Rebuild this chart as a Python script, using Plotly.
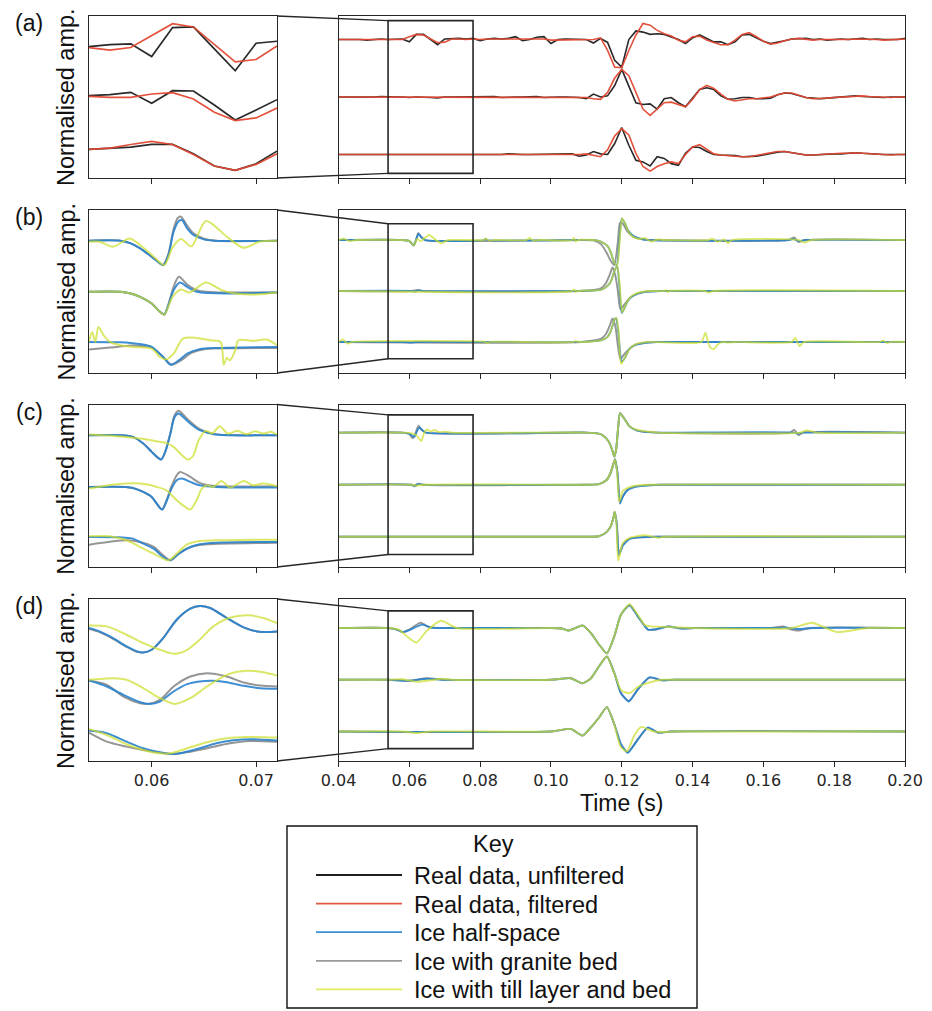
import plotly.graph_objects as go

# ============================ DATA ============================
# (a) real data, sampled every 2 ms (0.040 ... 0.200 s); amplitudes relative to each trace's baseline
A_T = [round(0.040 + 0.002 * i, 3) for i in range(81)]
A_TOP_UNF = [0.00, 0.00, 0.01, 0.00, -0.01, 0.00, 0.01, 0.00, 0.01, 0.01,
             -0.04, 0.09, 0.09, 0.00, -0.09, 0.01, 0.02, 0.02, 0.01, 0.02,
             -0.02, 0.01, 0.02, 0.01, 0.02, 0.05, -0.02, 0.00, 0.04, 0.05,
             -0.07, 0.00, 0.01, 0.01, 0.00, 0.00, -0.06, 0.02, -0.05, -0.36,
             -0.48, 0.00, 0.15, 0.13, 0.09, 0.10, 0.09, 0.05, 0.00, -0.07,
             0.03, 0.08, 0.02, -0.04, -0.04, -0.09, -0.04, 0.08, 0.09, 0.03,
             -0.03, -0.07, -0.05, -0.02, 0.01, 0.01, 0.02, 0.00, 0.01, -0.01,
             0.00, 0.01, 0.00, 0.01, 0.02, 0.00, 0.01, 0.00, 0.00, 0.00, 0.02]
A_TOP_FIL = [0.00, 0.00, -0.01, 0.00, 0.00, 0.00, 0.00, 0.00, -0.01, 0.00,
             0.05, 0.09, 0.08, 0.01, -0.055, -0.045, 0.01, 0.01, 0.00, 0.01,
             0.00, 0.01, 0.01, 0.01, 0.01, 0.02, 0.01, 0.01, 0.02, 0.01,
             -0.01, -0.01, 0.00, 0.00, 0.00, 0.00, 0.00, 0.03, -0.19, -0.48,
             -0.49, -0.19, 0.08, 0.28, 0.25, 0.16, 0.10, 0.06, -0.01, -0.04,
             0.05, 0.06, -0.01, -0.05, -0.09, -0.09, -0.01, 0.09, 0.12, 0.05,
             -0.03, -0.08, -0.06, -0.02, 0.01, 0.02, 0.01, -0.01, 0.00, 0.00,
             -0.01, 0.00, 0.00, 0.01, 0.01, 0.00, 0.00, -0.01, 0.00, 0.00, 0.01]
A_MID_UNF = [0.00, 0.00, 0.00, -0.01, 0.00, 0.00, 0.01, 0.00, 0.00, 0.00,
             -0.01, 0.00, 0.00, -0.01, -0.015, 0.00, 0.00, 0.00, 0.00, 0.00,
             0.00, 0.00, 0.01, -0.01, 0.00, 0.00, 0.00, 0.00, 0.01, -0.01,
             0.00, 0.00, 0.00, 0.00, -0.01, -0.03, 0.05, 0.00, 0.02, 0.20,
             0.48, 0.19, -0.10, -0.13, -0.12, -0.21, -0.03, -0.01, -0.10, -0.17,
             -0.01, 0.13, 0.16, 0.13, 0.02, -0.04, -0.03, -0.01, -0.01, -0.03,
             -0.03, -0.02, 0.04, 0.07, 0.06, 0.02, -0.01, -0.02, -0.03, -0.02,
             -0.01, 0.00, 0.01, 0.02, 0.01, 0.00, 0.00, -0.01, 0.00, 0.00, 0.00]
A_MID_FIL = [0.00, 0.00, 0.00, 0.00, 0.00, 0.00, 0.00, 0.00, 0.00, 0.00,
             -0.01, 0.00, 0.00, 0.00, -0.01, 0.00, 0.00, 0.00, 0.00, 0.00,
             0.00, 0.00, 0.00, 0.00, 0.00, 0.00, 0.00, 0.00, 0.00, 0.00,
             0.00, 0.00, 0.00, 0.00, -0.01, -0.01, -0.03, -0.04, 0.08, 0.33,
             0.48, 0.37, 0.08, -0.21, -0.32, -0.21, -0.10, -0.09, -0.13, -0.17,
             -0.04, 0.13, 0.20, 0.15, 0.05, -0.04, -0.07, -0.05, -0.03, -0.03,
             -0.02, 0.00, 0.04, 0.07, 0.07, 0.03, -0.01, -0.03, -0.03, -0.02,
             -0.01, 0.00, 0.01, 0.02, 0.02, 0.01, 0.00, -0.01, -0.01, 0.00, 0.00]
A_BOT_UNF = [0.00, 0.00, 0.00, 0.00, 0.00, -0.01, 0.00, 0.00, 0.00, 0.00,
             0.00, 0.00, 0.00, -0.01, -0.01, 0.00, 0.00, 0.00, 0.00, 0.00,
             0.00, 0.00, 0.00, 0.00, 0.01, 0.00, 0.00, 0.00, 0.00, 0.00,
             0.00, 0.00, 0.00, 0.01, -0.03, -0.01, 0.05, 0.01, 0.00, 0.19,
             0.47, 0.16, -0.10, -0.13, -0.20, -0.04, -0.07, -0.16, -0.19, 0.02,
             0.13, 0.12, 0.05, 0.00, -0.01, -0.01, -0.02, -0.04, -0.04, -0.03,
             -0.01, 0.02, 0.04, 0.05, 0.03, 0.01, -0.01, -0.01, 0.00, 0.00,
             0.01, 0.01, 0.02, 0.03, 0.02, 0.01, 0.00, 0.00, 0.00, 0.00, 0.00]
A_BOT_FIL = [0.00, 0.00, 0.00, 0.00, 0.00, 0.00, 0.00, 0.00, 0.00, 0.00,
             0.00, 0.00, 0.00, 0.00, -0.01, 0.00, 0.00, 0.00, 0.00, 0.00,
             0.00, 0.00, 0.00, 0.00, 0.00, 0.00, 0.00, 0.00, 0.00, 0.00,
             0.00, 0.00, 0.00, 0.00, 0.00, 0.01, -0.02, -0.04, 0.08, 0.32,
             0.45, 0.34, 0.02, -0.21, -0.29, -0.21, -0.16, -0.13, -0.16, 0.00,
             0.13, 0.17, 0.09, 0.01, -0.01, -0.02, -0.04, -0.04, -0.04, -0.02,
             0.00, 0.02, 0.05, 0.05, 0.03, 0.01, -0.01, -0.01, 0.00, 0.00,
             0.01, 0.02, 0.02, 0.03, 0.02, 0.01, 0.00, 0.00, -0.01, 0.00, 0.00]

# (a) zoom window, each trace re-normalised within the window
A_IN_T = [0.054, 0.056, 0.058, 0.060, 0.062, 0.064, 0.066, 0.068, 0.070, 0.072]
A_IN_TOP_UNF = [0.03, 0.09, 0.11, -0.27, 0.60, 0.62, -0.04, -0.70, 0.13, 0.19]
A_IN_TOP_FIL = [0.00, -0.08, 0.00, 0.37, 0.72, 0.62, 0.10, -0.43, -0.36, 0.05]
A_IN_MID_UNF = [0.02, 0.05, 0.12, -0.21, 0.17, 0.16, -0.26, -0.71, -0.41, -0.10]
A_IN_MID_FIL = [0.00, -0.03, -0.03, 0.07, 0.11, -0.08, -0.48, -0.73, -0.65, -0.35]
A_IN_BOT_UNF = [0.00, 0.03, 0.07, 0.15, 0.15, -0.13, -0.50, -0.63, -0.43, -0.05]
A_IN_BOT_FIL = [0.00, 0.04, 0.15, 0.24, 0.15, -0.15, -0.50, -0.63, -0.45, -0.13]

# (b) synthetic traces, full window: (time s, amplitude)
B_TOP_BLUE = [(0.040, 0), (0.058, 0), (0.0600, -0.02), (0.0613, -0.10), (0.0619, 0.0), (0.0626, 0.12), (0.0634, 0.06),
              (0.0645, 0.0), (0.081, 0), (0.0815, 0.02), (0.082, 0), (0.107, 0), (0.1122, 0.0), (0.1141, -0.03),
              (0.116, -0.12), (0.117, -0.26), (0.1179, -0.45), (0.1186, -0.49), (0.1193, -0.03), (0.1200, 0.42),
              (0.1208, 0.34), (0.1217, 0.20), (0.1231, 0.09), (0.1250, 0.03), (0.1273, 0.0), (0.167, 0),
              (0.1685, 0.02), (0.170, -0.02), (0.172, 0), (0.200, 0)]
B_TOP_GREY = [(0.040, 0), (0.058, 0), (0.0600, -0.02), (0.0612, -0.11), (0.0619, 0.0), (0.0625, 0.14), (0.0633, 0.06),
              (0.0645, 0.0), (0.108, 0), (0.1122, -0.01), (0.1141, -0.08), (0.1155, -0.22), (0.117, -0.42),
              (0.1179, -0.49), (0.1189, -0.03), (0.1195, 0.34), (0.1203, 0.32), (0.1217, 0.16), (0.1236, 0.05),
              (0.1264, 0.01), (0.129, 0), (0.167, 0), (0.1687, 0.05), (0.1700, -0.04), (0.1715, 0), (0.200, 0)]
B_TOP_YEL = [(0.040, 0), (0.0415, 0.03), (0.043, -0.02), (0.045, 0), (0.058, 0), (0.0600, -0.02), (0.0613, -0.10),
             (0.0622, 0.02), (0.0632, -0.02), (0.0656, 0.10), (0.0675, 0.0), (0.0691, -0.06), (0.071, 0),
             (0.081, 0), (0.0815, 0.03), (0.0825, -0.01), (0.084, 0), (0.093, 0), (0.094, 0.04), (0.095, -0.01),
             (0.097, 0), (0.106, 0), (0.1065, 0.04), (0.107, -0.03), (0.1075, 0), (0.1122, 0.0), (0.1141, -0.03),
             (0.116, -0.12), (0.117, -0.26), (0.1179, -0.45), (0.1187, -0.49), (0.1194, -0.03), (0.1201, 0.43),
             (0.1209, 0.33), (0.1218, 0.18), (0.1232, 0.06), (0.1250, 0.02), (0.1264, 0.04), (0.1283, -0.03),
             (0.1302, 0.01), (0.132, 0), (0.1445, 0), (0.1455, 0.03), (0.147, -0.03), (0.149, 0.01),
             (0.150, -0.06), (0.151, 0), (0.170, 0), (0.1716, -0.05), (0.1735, 0), (0.200, 0)]
B_MID_BLUE = [(0.040, 0), (0.0605, 0), (0.0615, -0.01), (0.0625, 0.01), (0.064, 0), (0.108, 0), (0.1122, 0.01),
              (0.1141, 0.02), (0.116, 0.10), (0.117, 0.20), (0.1179, 0.39), (0.1187, 0.49), (0.1193, 0.13),
              (0.1200, -0.43), (0.1208, -0.33), (0.1217, -0.20), (0.1231, -0.10), (0.1255, -0.03), (0.1283, -0.01),
              (0.131, 0), (0.200, 0)]
B_MID_GREY = [(0.040, 0), (0.0605, 0), (0.0625, 0.02), (0.064, 0), (0.108, 0), (0.1122, 0.02), (0.1141, 0.05),
              (0.1155, 0.15), (0.1166, 0.32), (0.1174, 0.46), (0.1182, 0.30), (0.1189, 0.0), (0.1196, -0.36),
              (0.1208, -0.26), (0.1224, -0.13), (0.1245, -0.05), (0.127, -0.01), (0.130, 0), (0.200, 0)]
B_MID_YEL = [(0.040, 0), (0.106, 0), (0.1065, 0.03), (0.107, -0.02), (0.1075, 0), (0.1122, 0.01), (0.1141, 0.02),
             (0.116, 0.10), (0.117, 0.20), (0.1179, 0.39), (0.1187, 0.49), (0.1194, 0.13), (0.1201, -0.42),
             (0.1209, -0.31), (0.1218, -0.18), (0.1232, -0.08), (0.1255, -0.02), (0.128, 0), (0.132, 0),
             (0.1325, 0.02), (0.133, -0.02), (0.1335, 0), (0.1435, 0), (0.1445, -0.03), (0.146, 0), (0.200, 0)]
B_BOT_BLUE = [(0.040, 0), (0.058, 0), (0.0605, -0.01), (0.062, 0), (0.1085, 0), (0.1141, 0.03), (0.116, 0.10),
              (0.117, 0.23), (0.1179, 0.43), (0.1184, 0.47), (0.1190, 0.20), (0.1200, -0.39), (0.1210, -0.30),
              (0.1222, -0.13), (0.1241, -0.05), (0.1274, -0.01), (0.130, 0), (0.200, 0)]
B_BOT_GREY = [(0.040, 0), (0.1085, 0), (0.1141, 0.06), (0.1155, 0.15), (0.1166, 0.32), (0.1174, 0.46),
              (0.1182, 0.30), (0.1189, -0.07), (0.1196, -0.33), (0.1212, -0.20), (0.1236, -0.07), (0.127, -0.01),
              (0.130, 0), (0.200, 0)]
B_BOT_YEL = [(0.040, 0), (0.0412, 0.05), (0.0425, -0.03), (0.044, 0), (0.0815, 0), (0.082, -0.02), (0.083, 0),
             (0.1065, 0), (0.107, 0.02), (0.1075, 0), (0.1141, 0.03), (0.116, 0.10), (0.117, 0.23), (0.1179, 0.43),
             (0.1185, 0.47), (0.1191, 0.20), (0.1198, -0.43), (0.1208, -0.32), (0.1222, -0.14), (0.1241, -0.04),
             (0.127, 0), (0.1425, 0), (0.1436, 0.18), (0.1449, -0.10), (0.1459, -0.14), (0.1473, -0.04),
             (0.1485, 0.0), (0.1500, -0.01), (0.152, 0), (0.168, 0), (0.169, 0.08), (0.1702, -0.08), (0.1715, 0),
             (0.193, 0), (0.1938, 0.03), (0.1948, -0.02), (0.196, 0), (0.200, 0)]
# (b) zoom window
B_IN_TOP_BLUE = [(0.054, 0), (0.0570, 0), (0.0580, -0.08), (0.0589, -0.23), (0.0600, -0.48), (0.0608, -0.68),
                 (0.0611, -0.73), (0.0616, -0.43), (0.0621, 0.27), (0.0626, 0.59), (0.0629, 0.62), (0.0634, 0.37),
                 (0.0640, 0.17), (0.0650, 0.04), (0.0660, 0.0), (0.072, 0)]
B_IN_TOP_GREY = [(0.054, 0), (0.0570, 0), (0.0580, -0.08), (0.0589, -0.23), (0.0600, -0.48), (0.0608, -0.68),
                 (0.0611, -0.73), (0.0616, -0.40), (0.0621, 0.35), (0.0625, 0.68), (0.0628, 0.72), (0.0634, 0.45),
                 (0.0640, 0.22), (0.0650, 0.06), (0.0662, 0.0), (0.072, 0)]
B_IN_TOP_YEL = [(0.054, -0.03), (0.0550, -0.03), (0.0563, -0.18), (0.0579, 0.07), (0.0589, -0.13), (0.0602, -0.48),
                (0.0612, -0.73), (0.0620, -0.20), (0.0628, 0.05), (0.0638, -0.17), (0.0652, 0.59), (0.0672, 0.12),
                (0.0688, -0.21), (0.0703, -0.03), (0.072, 0)]
B_IN_MID_BLUE = [(0.054, 0), (0.0570, 0), (0.0580, -0.05), (0.0589, -0.15), (0.0600, -0.35), (0.0608, -0.60),
                 (0.0612, -0.68), (0.0616, -0.40), (0.0621, 0.05), (0.0627, 0.28), (0.0634, 0.15), (0.0643, 0.0),
                 (0.072, -0.02)]
B_IN_MID_GREY = [(0.054, 0), (0.0570, 0), (0.0580, -0.05), (0.0589, -0.15), (0.0600, -0.35), (0.0608, -0.60),
                 (0.0612, -0.68), (0.0616, -0.38), (0.0621, 0.15), (0.0626, 0.45), (0.0634, 0.22), (0.0645, 0.03),
                 (0.0660, -0.01), (0.072, -0.02)]
B_IN_MID_YEL = [(0.054, 0), (0.0570, 0), (0.0580, -0.05), (0.0589, -0.15), (0.0600, -0.35), (0.0608, -0.60),
                (0.0612, -0.68), (0.0620, -0.15), (0.0628, 0.07), (0.0636, -0.02), (0.0652, 0.28), (0.0667, 0.05),
                (0.0680, -0.05), (0.0700, -0.08), (0.072, -0.02)]
B_IN_BOT_BLUE = [(0.054, 0.15), (0.0570, 0.14), (0.0580, 0.12), (0.0590, 0.08), (0.0600, 0.0), (0.0611, -0.30),
                 (0.0618, -0.53), (0.0626, -0.40), (0.0634, -0.20), (0.0646, -0.07), (0.0662, -0.03), (0.072, 0)]
B_IN_BOT_GREY = [(0.054, -0.08), (0.0560, -0.02), (0.0580, 0.04), (0.0590, 0.03), (0.0600, -0.02), (0.0611, -0.30),
                 (0.0619, -0.53), (0.0628, -0.40), (0.0638, -0.18), (0.0650, -0.07), (0.0680, -0.04), (0.072, -0.03)]
B_IN_BOT_YEL = [(0.054, 0.15), (0.0543, 0.45), (0.0546, 0.15), (0.0549, 0.60), (0.0554, 0.35), (0.0560, 0.15),
                (0.0570, 0.05), (0.0582, 0.0), (0.0600, -0.05), (0.0608, -0.30), (0.0614, -0.37), (0.0621, -0.20),
                (0.0630, 0.25), (0.0643, 0.27), (0.0656, 0.20), (0.0666, 0.15), (0.0669, -0.53), (0.0672, -0.33),
                (0.0675, -0.40), (0.0680, -0.10), (0.0683, 0.20), (0.0697, 0.18), (0.0710, 0.22), (0.0720, 0.05)]

# (c) synthetic traces, full window
C_TOP_BLUE = [(0.040, 0), (0.058, 0), (0.0600, -0.02), (0.0614, -0.08), (0.0620, 0.0), (0.0628, 0.10), (0.0636, 0.05),
              (0.0648, 0.0), (0.1100, 0), (0.1135, -0.02), (0.1146, -0.05), (0.1163, -0.17), (0.1173, -0.33),
              (0.1179, -0.46), (0.1184, -0.33), (0.1190, 0.11), (0.1195, 0.37), (0.1206, 0.28), (0.1222, 0.12),
              (0.1244, 0.04), (0.1276, 0.01), (0.130, 0), (0.1685, 0), (0.1695, -0.02), (0.171, 0), (0.200, 0)]
C_TOP_GREY = [(0.040, 0), (0.058, 0), (0.0600, -0.03), (0.0610, -0.11), (0.0618, 0.0), (0.0626, 0.135),
              (0.0634, 0.06), (0.0646, 0.0), (0.1100, 0), (0.1135, -0.02), (0.1146, -0.05), (0.1163, -0.17),
              (0.1173, -0.33), (0.1179, -0.46), (0.1184, -0.33), (0.1190, 0.11), (0.1195, 0.38), (0.1206, 0.28),
              (0.1222, 0.12), (0.1244, 0.04), (0.1276, 0.01), (0.130, 0), (0.1675, 0), (0.1687, 0.05),
              (0.1700, -0.05), (0.1712, 0), (0.200, 0)]
C_TOP_YEL = [(0.040, 0), (0.058, 0), (0.0605, -0.01), (0.0620, -0.05), (0.0634, -0.16), (0.0642, 0.0),
             (0.0650, 0.06), (0.066, 0.02), (0.0670, 0.05), (0.0685, 0.01), (0.070, 0.02), (0.072, 0), (0.1100, 0),
             (0.1135, -0.02), (0.1146, -0.05), (0.1163, -0.17), (0.1173, -0.33), (0.1179, -0.46), (0.1184, -0.33),
             (0.1190, 0.11), (0.1195, 0.37), (0.1206, 0.28), (0.1222, 0.12), (0.1244, 0.05), (0.1276, 0.02),
             (0.1300, 0.0), (0.1705, 0), (0.1720, 0.04), (0.1735, 0.03), (0.175, 0), (0.200, 0)]
C_MID_BLUE = [(0.040, 0), (0.0605, 0), (0.0615, -0.03), (0.0625, 0.01), (0.064, 0), (0.1100, 0), (0.1135, 0.01),
              (0.1157, 0.09), (0.1168, 0.22), (0.1177, 0.41), (0.1181, 0.49), (0.1188, 0.22), (0.1195, -0.36),
              (0.1203, -0.23), (0.1217, -0.10), (0.1239, -0.04), (0.1276, -0.01), (0.131, 0), (0.200, 0)]
C_MID_GREY = [(0.040, 0), (0.0605, 0), (0.0615, -0.01), (0.0625, 0.02), (0.064, 0), (0.1100, 0), (0.1135, 0.01),
              (0.1157, 0.09), (0.1168, 0.22), (0.1177, 0.41), (0.1181, 0.49), (0.1188, 0.22), (0.1195, -0.34),
              (0.1203, -0.22), (0.1217, -0.09), (0.1239, -0.03), (0.1276, -0.01), (0.131, 0), (0.200, 0)]
C_MID_YEL = [(0.040, 0), (0.0605, 0), (0.0620, -0.02), (0.064, 0), (0.1100, 0), (0.1135, 0.01), (0.1157, 0.09),
             (0.1168, 0.22), (0.1177, 0.41), (0.1181, 0.49), (0.1187, 0.22), (0.1193, -0.33), (0.1203, -0.12),
             (0.1217, -0.06), (0.1239, -0.02), (0.1276, 0.0), (0.200, 0)]
C_BOT_BLUE = [(0.040, 0), (0.1100, 0), (0.1135, 0.01), (0.1157, 0.09), (0.1168, 0.19), (0.1177, 0.38),
              (0.1180, 0.48), (0.1186, 0.25), (0.1192, -0.36), (0.1203, -0.17), (0.1222, -0.04), (0.1255, -0.01),
              (0.130, 0), (0.200, 0)]
C_BOT_GREY = [(0.040, 0), (0.1100, 0), (0.1135, 0.01), (0.1157, 0.09), (0.1168, 0.19), (0.1177, 0.38),
              (0.1180, 0.47), (0.1186, 0.25), (0.1192, -0.33), (0.1203, -0.15), (0.1222, -0.04), (0.1255, -0.01),
              (0.130, 0), (0.200, 0)]
C_BOT_YEL = [(0.040, 0), (0.1100, 0), (0.1135, 0.01), (0.1157, 0.09), (0.1168, 0.19), (0.1177, 0.38),
             (0.1180, 0.48), (0.1185, 0.25), (0.1190, -0.46), (0.1203, -0.12), (0.1222, -0.02), (0.1266, 0.03),
             (0.1303, -0.02), (0.132, 0), (0.200, 0)]
# (c) zoom window
C_IN_TOP_BLUE = [(0.054, 0), (0.0570, 0), (0.0582, -0.05), (0.0592, -0.25), (0.0600, -0.50), (0.0605, -0.65),
                 (0.0609, -0.73), (0.0613, -0.50), (0.0618, 0.05), (0.0622, 0.55), (0.0626, 0.65), (0.0630, 0.55),
                 (0.0637, 0.35), (0.0646, 0.15), (0.0659, 0.03), (0.072, 0)]
C_IN_TOP_GREY = [(0.054, 0), (0.0570, 0), (0.0582, -0.05), (0.0592, -0.25), (0.0600, -0.50), (0.0605, -0.65),
                 (0.0609, -0.73), (0.0613, -0.50), (0.0618, 0.08), (0.0622, 0.60), (0.0626, 0.73), (0.0630, 0.62),
                 (0.0637, 0.40), (0.0646, 0.18), (0.0659, 0.04), (0.072, 0)]
C_IN_TOP_YEL = [(0.054, 0.02), (0.0566, -0.03), (0.0589, -0.10), (0.0608, -0.20), (0.0614, -0.23), (0.0621, -0.35),
                (0.0629, -0.60), (0.0635, -0.73), (0.0640, -0.60), (0.0645, -0.15), (0.0652, 0.13), (0.0658, 0.05),
                (0.0665, 0.27), (0.0673, 0.05), (0.0682, 0.13), (0.0691, 0.03), (0.0699, 0.12), (0.0707, 0.05),
                (0.0714, 0.10), (0.072, 0.02)]
C_IN_MID_BLUE = [(0.054, 0), (0.0575, 0), (0.0582, -0.03), (0.0592, -0.15), (0.0600, -0.30), (0.0606, -0.55),
                 (0.0610, -0.68), (0.0614, -0.45), (0.0619, -0.05), (0.0624, 0.20), (0.0629, 0.25), (0.0637, 0.15),
                 (0.0646, 0.05), (0.0662, 0.0), (0.072, -0.02)]
C_IN_MID_GREY = [(0.054, 0), (0.0575, 0), (0.0582, -0.03), (0.0592, -0.15), (0.0600, -0.30), (0.0606, -0.55),
                 (0.0610, -0.68), (0.0614, -0.42), (0.0619, 0.02), (0.0624, 0.35), (0.0627, 0.45), (0.0637, 0.30),
                 (0.0646, 0.12), (0.0660, 0.03), (0.072, 0.02)]
C_IN_MID_YEL = [(0.054, -0.05), (0.0566, 0.08), (0.0589, 0.10), (0.0605, 0.0), (0.0614, -0.10), (0.0624, -0.40),
                (0.0632, -0.60), (0.0637, -0.68), (0.0643, -0.40), (0.0648, -0.05), (0.0653, 0.05), (0.0659, 0.0),
                (0.0667, 0.18), (0.0675, -0.02), (0.0688, 0.18), (0.0697, 0.05), (0.0707, 0.10), (0.072, 0.02)]
C_IN_BOT_BLUE = [(0.054, 0.15), (0.0570, 0.14), (0.0582, 0.10), (0.0592, -0.05), (0.0602, -0.20), (0.0611, -0.45),
                 (0.0618, -0.55), (0.0624, -0.40), (0.0634, -0.20), (0.0646, -0.07), (0.0662, -0.02), (0.072, 0)]
C_IN_BOT_GREY = [(0.054, -0.08), (0.0576, 0.05), (0.0589, 0.0), (0.0602, -0.15), (0.0611, -0.40), (0.0618, -0.55),
                 (0.0626, -0.35), (0.0637, -0.15), (0.0653, -0.07), (0.072, -0.02)]
C_IN_BOT_YEL = [(0.054, 0.17), (0.0560, 0.17), (0.0576, 0.05), (0.0592, -0.20), (0.0605, -0.40), (0.0616, -0.55),
                (0.0624, -0.35), (0.0634, -0.07), (0.0646, 0.03), (0.0662, 0.05), (0.072, 0.07)]

# (d) synthetic traces, full window
D_TOP_BLUE = [(0.040, 0), (0.054, 0), (0.0565, -0.03), (0.0582, -0.08), (0.0600, -0.04), (0.0637, 0.065),
              (0.0660, 0.01), (0.0680, 0.0), (0.1000, 0), (0.1030, -0.01), (0.1050, -0.05), (0.1070, 0.0),
              (0.1089, 0.05), (0.1113, -0.10), (0.1136, -0.32), (0.1158, -0.49), (0.1179, -0.16), (0.1198, 0.26),
              (0.1222, 0.44), (0.1245, 0.23), (0.1274, -0.03), (0.1293, -0.03), (0.1331, 0.03), (0.1369, -0.01),
              (0.1407, 0.0), (0.1640, 0), (0.1660, 0.01), (0.1700, -0.02), (0.1740, 0), (0.200, 0)]
D_TOP_GREY = [(0.040, 0), (0.054, 0), (0.0565, -0.03), (0.0582, -0.08), (0.0600, -0.03), (0.0632, 0.10),
              (0.0655, 0.02), (0.0680, 0.0), (0.1000, 0), (0.1030, -0.01), (0.1050, -0.05), (0.1070, 0.0),
              (0.1089, 0.05), (0.1113, -0.10), (0.1136, -0.32), (0.1158, -0.49), (0.1179, -0.16), (0.1198, 0.26),
              (0.1222, 0.44), (0.1245, 0.23), (0.1274, -0.03), (0.1293, -0.03), (0.1331, 0.03), (0.1369, -0.01),
              (0.1407, 0.0), (0.1620, 0), (0.1656, 0.03), (0.1670, -0.01), (0.1700, -0.05), (0.1730, 0),
              (0.200, 0)]
D_TOP_YEL = [(0.040, 0), (0.054, 0), (0.0570, -0.03), (0.0600, -0.20), (0.0620, -0.28), (0.0650, -0.05),
             (0.0690, 0.14), (0.0734, 0.0), (0.1000, 0), (0.1030, -0.01), (0.1050, -0.05), (0.1070, 0.0),
             (0.1089, 0.05), (0.1113, -0.10), (0.1136, -0.32), (0.1158, -0.49), (0.1179, -0.16), (0.1198, 0.26),
             (0.1222, 0.46), (0.1245, 0.26), (0.1264, 0.06), (0.1283, 0.03), (0.1331, 0.02), (0.1400, 0),
             (0.1680, 0), (0.1737, 0.10), (0.1808, -0.08), (0.1895, 0), (0.200, 0)]
D_MID_BLUE = [(0.040, 0), (0.054, 0), (0.0600, -0.02), (0.0650, 0.02), (0.0700, 0), (0.1000, 0), (0.1056, 0.03),
              (0.1089, -0.07), (0.1113, 0.03), (0.1136, 0.26), (0.1158, 0.45), (0.1179, 0.13), (0.1198, -0.26),
              (0.1220, -0.42), (0.1245, -0.19), (0.1279, 0.05), (0.1312, -0.01), (0.1350, 0), (0.200, 0)]
D_MID_GREY = [(0.040, 0), (0.054, 0), (0.0600, -0.02), (0.0650, 0.03), (0.0700, 0), (0.1000, 0), (0.1056, 0.03),
              (0.1089, -0.07), (0.1113, 0.03), (0.1136, 0.26), (0.1158, 0.45), (0.1179, 0.13), (0.1198, -0.26),
              (0.1220, -0.41), (0.1245, -0.19), (0.1279, 0.04), (0.1312, -0.01), (0.1350, 0), (0.200, 0)]
D_MID_YEL = [(0.040, 0), (0.054, 0), (0.0580, 0.01), (0.0620, -0.04), (0.0660, -0.01), (0.0690, 0.02), (0.0720, 0),
             (0.1000, 0), (0.1056, 0.03), (0.1089, -0.07), (0.1113, 0.03), (0.1136, 0.26), (0.1158, 0.45),
             (0.1179, 0.13), (0.1198, -0.20), (0.1222, -0.26), (0.1245, -0.14), (0.1279, -0.05), (0.1312, 0.0),
             (0.1350, 0), (0.200, 0)]
D_BOT_BLUE = [(0.040, 0), (0.1000, 0), (0.1056, 0.05), (0.1089, -0.08), (0.1113, 0.08), (0.1136, 0.27),
              (0.1158, 0.47), (0.1179, 0.14), (0.1198, -0.25), (0.1217, -0.41), (0.1241, -0.20), (0.1274, 0.08),
              (0.1302, -0.02), (0.1340, 0), (0.200, 0)]
D_BOT_GREY = [(0.040, 0), (0.1000, 0), (0.1056, 0.05), (0.1089, -0.08), (0.1113, 0.08), (0.1136, 0.27),
              (0.1158, 0.47), (0.1179, 0.14), (0.1198, -0.25), (0.1217, -0.40), (0.1241, -0.19), (0.1274, 0.07),
              (0.1302, -0.02), (0.1340, 0), (0.200, 0)]
D_BOT_YEL = [(0.040, 0), (0.058, 0), (0.062, -0.03), (0.066, 0), (0.1000, 0), (0.1056, 0.05), (0.1089, -0.08),
             (0.1113, 0.08), (0.1136, 0.27), (0.1158, 0.47), (0.1179, 0.14), (0.1197, -0.30), (0.1215, -0.38),
             (0.1235, -0.08), (0.1255, 0.09), (0.1285, 0.01), (0.1320, -0.01), (0.1350, 0), (0.200, 0)]
# (d) zoom window
D_IN_TOP_BLUE = [(0.054, 0.05), (0.0550, -0.05), (0.0563, -0.25), (0.0576, -0.50), (0.0586, -0.65),
                 (0.0592, -0.68), (0.0600, -0.60), (0.0611, -0.25), (0.0624, 0.30), (0.0637, 0.63), (0.0646, 0.71),
                 (0.0656, 0.65), (0.0672, 0.35), (0.0688, 0.07), (0.0701, -0.05), (0.0710, -0.07), (0.072, -0.05)]
D_IN_TOP_GREY = [(0.054, 0.02), (0.0550, -0.07), (0.0563, -0.27), (0.0576, -0.51), (0.0586, -0.66),
                 (0.0592, -0.68), (0.0600, -0.60), (0.0611, -0.25), (0.0624, 0.30), (0.0637, 0.63), (0.0646, 0.71),
                 (0.0656, 0.65), (0.0672, 0.35), (0.0688, 0.07), (0.0701, -0.05), (0.0710, -0.07), (0.072, -0.05)]
D_IN_TOP_YEL = [(0.054, 0.13), (0.0557, 0.10), (0.0576, -0.15), (0.0592, -0.40), (0.0608, -0.60), (0.0622, -0.72),
                (0.0634, -0.60), (0.0646, -0.30), (0.0659, 0.10), (0.0672, 0.33), (0.0685, 0.42), (0.0693, 0.43),
                (0.0707, 0.35), (0.072, 0.20)]
D_IN_MID_BLUE = [(0.054, 0.03), (0.0557, -0.15), (0.0573, -0.40), (0.0589, -0.62), (0.0598, -0.67), (0.0608, -0.60),
                 (0.0621, -0.30), (0.0634, -0.08), (0.0646, 0.0), (0.0659, 0.02), (0.0672, -0.02), (0.0688, -0.13),
                 (0.0704, -0.20), (0.072, -0.22)]
D_IN_MID_GREY = [(0.054, 0.03), (0.0557, -0.10), (0.0573, -0.45), (0.0589, -0.65), (0.0596, -0.67), (0.0608, -0.55),
                 (0.0621, -0.15), (0.0637, 0.15), (0.0653, 0.25), (0.0672, 0.15), (0.0688, -0.03), (0.0704, -0.12),
                 (0.072, -0.15)]
D_IN_MID_YEL = [(0.054, 0.05), (0.0563, 0.10), (0.0576, 0.05), (0.0592, -0.20), (0.0608, -0.50), (0.0622, -0.67),
                (0.0637, -0.50), (0.0653, -0.15), (0.0672, 0.20), (0.0691, 0.32), (0.0707, 0.28), (0.072, 0.18)]
D_IN_BOT_BLUE = [(0.054, 0.18), (0.0557, 0.10), (0.0576, -0.15), (0.0592, -0.35), (0.0608, -0.47), (0.0618, -0.52),
                 (0.0630, -0.48), (0.0646, -0.35), (0.0662, -0.20), (0.0678, -0.11), (0.0697, -0.08), (0.072, -0.12)]
D_IN_BOT_GREY = [(0.054, 0.12), (0.0557, -0.15), (0.0576, -0.30), (0.0592, -0.40), (0.0608, -0.48), (0.0621, -0.52),
                 (0.0637, -0.45), (0.0653, -0.35), (0.0675, -0.20), (0.0694, -0.13), (0.072, -0.15)]
D_IN_BOT_YEL = [(0.054, 0.23), (0.0557, 0.05), (0.0576, -0.23), (0.0592, -0.40), (0.0608, -0.50), (0.0618, -0.50),
                (0.0634, -0.35), (0.0653, -0.17), (0.0672, -0.05), (0.0691, -0.01), (0.072, -0.03)]

PANEL_LABELS = ["(a)", "(b)", "(c)", "(d)"]
MAIN_TICKS = [0.04, 0.06, 0.08, 0.10, 0.12, 0.14, 0.16, 0.18, 0.20]
INSET_TICKS = [0.06, 0.07]
SERIES_NAMES = ["Real data, unfiltered", "Real data, filtered", "Ice half-space",
                "Ice with granite bed", "Ice with till layer and bed"]

# ============================ STYLE / LAYOUT ============================
W, H = 932, 1011
FONT = "Liberation Sans, Arial, sans-serif"
TICKFONT = "DejaVu Sans, sans-serif"
INK = "#262626"
COL = {"unf": "rgba(30,30,30,0.95)", "fil": "rgba(226,72,50,0.95)", "blue": "rgba(40,130,205,0.9)",
       "grey": "rgba(130,130,130,0.85)", "yel": "rgba(205,222,45,0.72)"}
KEY_COL = ["#1e1e1e", "#e2563f", "#3b8fd3", "#9a9a9a", "#e2ea62"]

ROW_PX = [(16, 178), (210, 373), (404.5, 567), (599, 761)]
INSET_PX = (89, 277)
MAIN_PX = (338.5, 905)
MAIN_X = (0.04, 0.20)
INSET_X = (0.054, 0.072)
ZOOM_T = (0.054, 0.078)
MAIN_YR = [(-1.41, 1.41), (-1.61, 1.59), (-1.58, 1.54), (-1.57, 1.56)]
INSET_YR = [(-2.46, 2.42), (-2.43, 2.45), (-2.40, 2.47), (-2.38, 2.47)]
MAIN_OFF = [1.0, 0.0, -1.0]
INSET_OFF = [(1.47, 0.0, -1.60), (1.53, 0.0, -1.65), (1.55, 0.0, -1.65), (1.55, 0.0, -1.65)]
RECT_Y = [(-1.33, 1.33), (-1.33, 1.32), (-1.34, 1.34), (-1.33, 1.33)]


def fx(p):
    return p / W


def fy(p):
    return 1 - p / H


fig = go.Figure()
layout = dict(width=W, height=H, margin=dict(l=0, r=0, t=0, b=0, pad=0, autoexpand=False),
              paper_bgcolor="white", plot_bgcolor="white", showlegend=False)
shapes, annotations = [], []


def ax_key(n, kind):
    return kind if n == 1 else f"{kind}{n}"


def add_line(xs, ys, n, color, width, shape="linear", smoothing=0.7):
    kw = dict(color=color, width=width, shape=shape)
    if shape == "spline":
        kw["smoothing"] = smoothing
    fig.add_trace(go.Scatter(x=xs, y=ys, mode="lines", line=kw, hoverinfo="skip",
                             xaxis="x" if n == 1 else f"x{n}", yaxis="y" if n == 1 else f"y{n}"))


def add_pts(pts, off, n, color, width, smoothing):
    add_line([p[0] for p in pts], [p[1] + off for p in pts], n, color, width, "spline", smoothing)


MODEL = {
    1: ([B_TOP_BLUE, B_MID_BLUE, B_BOT_BLUE], [B_TOP_GREY, B_MID_GREY, B_BOT_GREY], [B_TOP_YEL, B_MID_YEL, B_BOT_YEL],
        [B_IN_TOP_BLUE, B_IN_MID_BLUE, B_IN_BOT_BLUE], [B_IN_TOP_GREY, B_IN_MID_GREY, B_IN_BOT_GREY],
        [B_IN_TOP_YEL, B_IN_MID_YEL, B_IN_BOT_YEL]),
    2: ([C_TOP_BLUE, C_MID_BLUE, C_BOT_BLUE], [C_TOP_GREY, C_MID_GREY, C_BOT_GREY], [C_TOP_YEL, C_MID_YEL, C_BOT_YEL],
        [C_IN_TOP_BLUE, C_IN_MID_BLUE, C_IN_BOT_BLUE], [C_IN_TOP_GREY, C_IN_MID_GREY, C_IN_BOT_GREY],
        [C_IN_TOP_YEL, C_IN_MID_YEL, C_IN_BOT_YEL]),
    3: ([D_TOP_BLUE, D_MID_BLUE, D_BOT_BLUE], [D_TOP_GREY, D_MID_GREY, D_BOT_GREY], [D_TOP_YEL, D_MID_YEL, D_BOT_YEL],
        [D_IN_TOP_BLUE, D_IN_MID_BLUE, D_IN_BOT_BLUE], [D_IN_TOP_GREY, D_IN_MID_GREY, D_IN_BOT_GREY],
        [D_IN_TOP_YEL, D_IN_MID_YEL, D_IN_BOT_YEL]),
}

for r in range(4):
    ni, nm = 2 * r + 1, 2 * r + 2
    yd = [fy(ROW_PX[r][1]), fy(ROW_PX[r][0])]
    common = dict(showline=True, mirror=True, linecolor=INK, linewidth=1.3, showgrid=False, zeroline=False,
                  fixedrange=True, automargin=False)
    xcommon = dict(common, ticks="outside", ticklen=5, tickwidth=1.2, tickcolor=INK,
                   showticklabels=(r == 3), tickfont=dict(family=TICKFONT, size=16, color=INK))
    layout[ax_key(ni, "xaxis")] = dict(xcommon, domain=[fx(INSET_PX[0]), fx(INSET_PX[1])], range=list(INSET_X),
                                       anchor="y" if ni == 1 else f"y{ni}",
                                       tickvals=INSET_TICKS, ticktext=[f"{v:.2f}" for v in INSET_TICKS])
    layout[ax_key(nm, "xaxis")] = dict(xcommon, domain=[fx(MAIN_PX[0]), fx(MAIN_PX[1])], range=list(MAIN_X),
                                       anchor=f"y{nm}",
                                       tickvals=MAIN_TICKS, ticktext=[f"{v:.2f}" for v in MAIN_TICKS])
    layout[ax_key(ni, "yaxis")] = dict(common, domain=yd, range=list(INSET_YR[r]), showticklabels=False, ticks="",
                                       anchor="x" if ni == 1 else f"x{ni}")
    layout[ax_key(nm, "yaxis")] = dict(common, domain=yd, range=list(MAIN_YR[r]), showticklabels=False, ticks="",
                                       anchor=f"x{nm}")

    if r == 0:
        for k, (unf, fil) in enumerate([(A_TOP_UNF, A_TOP_FIL), (A_MID_UNF, A_MID_FIL), (A_BOT_UNF, A_BOT_FIL)]):
            add_line(A_T, [v + MAIN_OFF[k] for v in unf], nm, COL["unf"], 1.6)
            add_line(A_T, [v + MAIN_OFF[k] for v in fil], nm, COL["fil"], 1.6)
        for k, (unf, fil) in enumerate([(A_IN_TOP_UNF, A_IN_TOP_FIL), (A_IN_MID_UNF, A_IN_MID_FIL),
                                        (A_IN_BOT_UNF, A_IN_BOT_FIL)]):
            add_line(A_IN_T, [v + INSET_OFF[r][k] for v in unf], ni, COL["unf"], 1.7)
            add_line(A_IN_T, [v + INSET_OFF[r][k] for v in fil], ni, COL["fil"], 1.7)
    else:
        blue, grey, yel, iblue, igrey, iyel = MODEL[r]
        for k in range(3):
            add_pts(grey[k], MAIN_OFF[k], nm, COL["grey"], 1.9, 0.6)
            add_pts(blue[k], MAIN_OFF[k], nm, COL["blue"], 1.9, 0.6)
            add_pts(yel[k], MAIN_OFF[k], nm, COL["yel"], 1.9, 0.6)
            add_pts(igrey[k], INSET_OFF[r][k], ni, COL["grey"], 2.0, 0.8)
            add_pts(iblue[k], INSET_OFF[r][k], ni, COL["blue"], 2.0, 0.8)
            add_pts(iyel[k], INSET_OFF[r][k], ni, COL["yel"], 2.0, 0.8)

    # zoom rectangle in the main panel
    shapes.append(dict(type="rect", xref=f"x{nm}", yref=f"y{nm}", x0=ZOOM_T[0], x1=ZOOM_T[1],
                       y0=RECT_Y[r][0], y1=RECT_Y[r][1], line=dict(color=INK, width=1.6), layer="above"))
    # connectors from inset corners to the rectangle corners (converted through the axes)
    mx0, mx1 = fx(MAIN_PX[0]), fx(MAIN_PX[1])
    rx = mx0 + (ZOOM_T[0] - MAIN_X[0]) / (MAIN_X[1] - MAIN_X[0]) * (mx1 - mx0)
    y0r, y1r = MAIN_YR[r]

    def ypap(v):
        return yd[0] + (v - y0r) / (y1r - y0r) * (yd[1] - yd[0])

    for ycorner, yv in ((yd[1], RECT_Y[r][1]), (yd[0], RECT_Y[r][0])):
        shapes.append(dict(type="line", xref="paper", yref="paper", x0=fx(INSET_PX[1]), y0=ycorner,
                           x1=rx, y1=ypap(yv), line=dict(color=INK, width=1.4), layer="above"))

    annotations.append(dict(text=PANEL_LABELS[r], x=fx(29), y=fy(ROW_PX[r][0] + 7), xref="paper", yref="paper",
                            showarrow=False, xanchor="center", yanchor="middle",
                            font=dict(family=FONT, size=23, color="#111")))
    annotations.append(dict(text="Normalised amp.", x=fx(66), y=(yd[0] + yd[1]) / 2, xref="paper", yref="paper",
                            showarrow=False, textangle=-90, xanchor="center", yanchor="middle",
                            font=dict(family=FONT, size=23.5, color="#111")))

annotations.append(dict(text="Time (s)", x=(fx(MAIN_PX[0]) + fx(MAIN_PX[1])) / 2, y=fy(803), xref="paper",
                        yref="paper", showarrow=False, xanchor="center", yanchor="middle",
                        font=dict(family=FONT, size=23, color="#111")))

# ---- key (legend) ----
KEY_BOX = (287, 826, 697, 1008)
shapes.append(dict(type="rect", xref="paper", yref="paper", x0=fx(KEY_BOX[0]), x1=fx(KEY_BOX[2]),
                   y0=fy(KEY_BOX[3]), y1=fy(KEY_BOX[1]), line=dict(color="#111", width=1.4),
                   fillcolor="white", layer="above"))
annotations.append(dict(text="Key", x=fx(493), y=fy(844), xref="paper", yref="paper", showarrow=False,
                        xanchor="center", yanchor="middle", font=dict(family=FONT, size=23.5, color="#111")))
for i, name in enumerate(SERIES_NAMES):
    yy = 875 + i * 28.6
    shapes.append(dict(type="line", xref="paper", yref="paper", x0=fx(316), x1=fx(402), y0=fy(yy), y1=fy(yy),
                       line=dict(color=KEY_COL[i], width=1.8), layer="above"))
    annotations.append(dict(text=name, x=fx(412), y=fy(yy + 1), xref="paper", yref="paper", showarrow=False,
                            xanchor="left", yanchor="middle", font=dict(family=FONT, size=23.5, color="#111")))

layout["shapes"] = shapes
layout["annotations"] = annotations
fig.update_layout(**layout)
fig.write_html("out.html")
